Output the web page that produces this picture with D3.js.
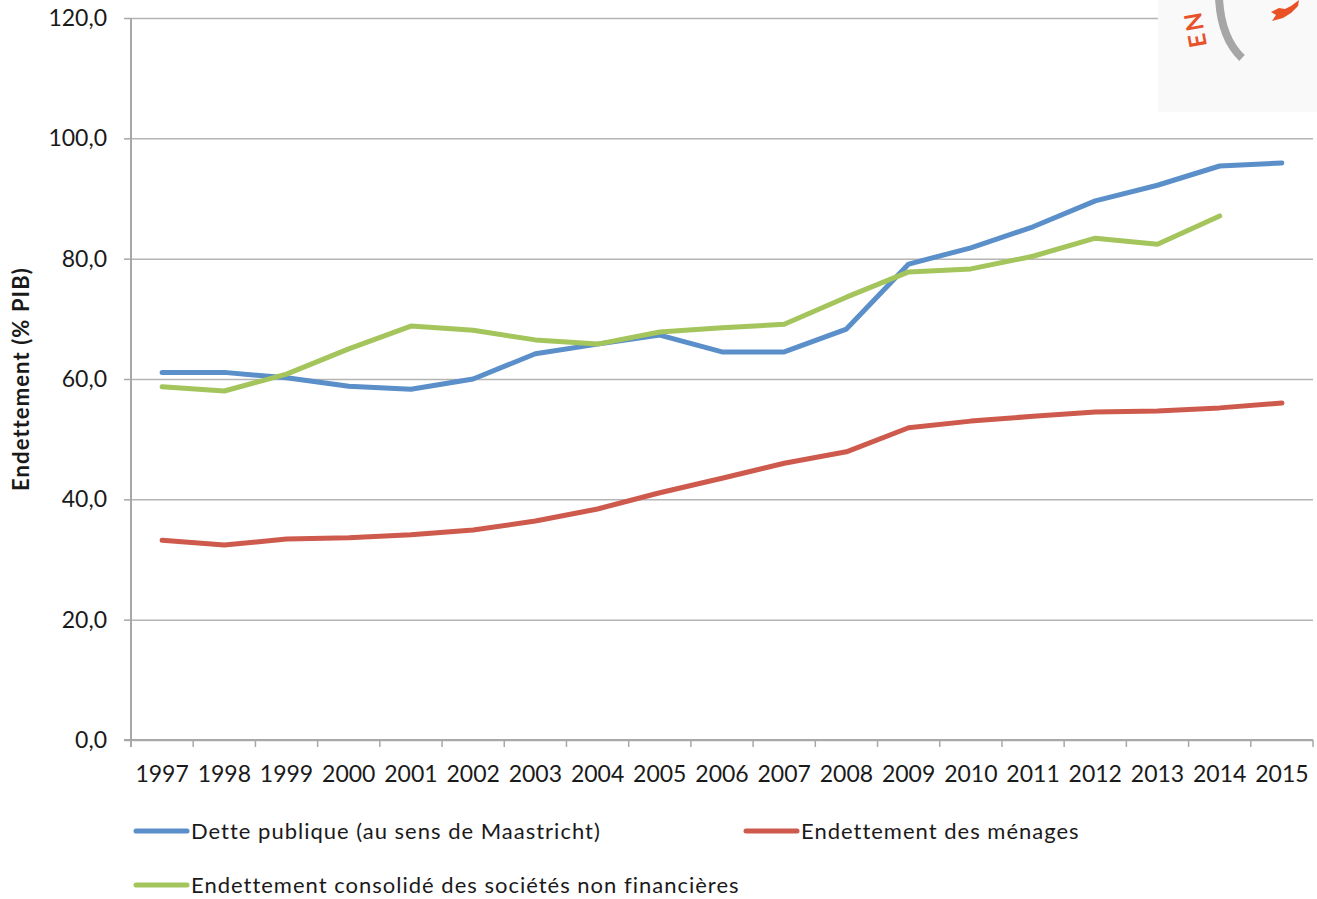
<!DOCTYPE html>
<html>
<head>
<meta charset="utf-8">
<script src="https://cdn.jsdelivr.net/npm/d3@7"></script>
<style>
  html, body { margin: 0; padding: 0; background: #fff; }
  svg { display: block; }
  text { font-family: Lato, "Open Sans", sans-serif; fill: #1a1a1a; }
</style>
</head>
<body>
<svg id="chart" width="1317" height="899"></svg>
<script>
// Endettement en % du PIB, 1997-2015
const years = ["1997","1998","1999","2000","2001","2002","2003","2004","2005","2006",
               "2007","2008","2009","2010","2011","2012","2013","2014","2015"];
const dettePublique = [61.1, 61.1, 60.2, 58.8, 58.3, 60.0, 64.2, 65.8, 67.3, 64.5,
                       64.5, 68.3, 79.1, 81.8, 85.3, 89.6, 92.2, 95.4, 95.9];
const menages       = [33.2, 32.4, 33.4, 33.6, 34.1, 34.9, 36.4, 38.4, 41.1, 43.5,
                       46.0, 47.9, 51.9, 53.0, 53.8, 54.5, 54.7, 55.2, 56.0];
const societes      = [58.7, 58.0, 60.8, 65.0, 68.8, 68.1, 66.5, 65.8, 67.8, 68.5,
                       69.1, 73.6, 77.8, 78.3, 80.4, 83.4, 82.4, 87.1, null];
const yTicks = [0, 20, 40, 60, 80, 100, 120];
const seriesNames = ["Dette publique (au sens de Maastricht)",
                     "Endettement des ménages",
                     "Endettement consolidé des sociétés non financières"];
const seriesColors = ["#5a8fc9", "#cd5a4c", "#a4c45c"];
const yTitle = "Endettement (% PIB)";

const svg = d3.select("#chart");
const plotLeft = 131, plotRight = 1313, plotTop = 18, plotBottom = 740;

const x = d3.scaleBand().domain(years).range([plotLeft, plotRight]).padding(0);
const y = d3.scaleLinear().domain([0, 120]).range([plotBottom, plotTop]);
const fmt = d => d3.format(".1f")(d).replace(".", ",");

// horizontal gridlines
const grid = svg.append("g")
  .attr("transform", `translate(${plotLeft},0)`)
  .call(d3.axisLeft(y).tickValues(yTicks).tickSize(-(plotRight - plotLeft)).tickFormat(""));
grid.select(".domain").remove();
grid.selectAll("line").attr("stroke", "#b4b4b4").attr("stroke-width", 1.5);

// logo panel in the top-right corner
const logo = svg.append("g");
logo.append("rect").attr("x", 1158).attr("y", 0).attr("width", 159).attr("height", 112)
  .attr("fill", "#f9f9f9");
logo.append("path").attr("d", "M1219,-2 Q1221,38 1242,58")
  .attr("fill", "none").attr("stroke", "#a6a6a6").attr("stroke-width", 8);
logo.append("text").attr("transform", "translate(1207,46) rotate(-100)")
  .attr("font-size", 24).attr("font-weight", 700).style("fill", "#e8522b")
  .attr("letter-spacing", 3).text("EN");
logo.append("path")
  .attr("d", "M1299,0 L1291,6 L1285,9 L1279,8 L1271,12 L1276,15 L1272,21 L1283,18 L1291,13 L1298,6 Z")
  .attr("fill", "#ea5226");

// y axis
const yAxis = svg.append("g")
  .attr("transform", `translate(${plotLeft},0)`)
  .call(d3.axisLeft(y).tickValues(yTicks).tickSize(7).tickPadding(17).tickFormat(fmt));
yAxis.select(".domain").attr("stroke", "#a8a8a8").attr("stroke-width", 2)
  .attr("d", `M0,${plotTop}V${plotBottom + 7}`);
yAxis.selectAll(".tick line").attr("stroke", "#a8a8a8").attr("stroke-width", 1.5);
yAxis.selectAll(".tick text").attr("font-size", 23).style("fill", "#1a1a1a")
  .attr("font-family", "Lato, sans-serif");

// x axis: labels centred in each band, tick marks on band boundaries
const xAxis = svg.append("g")
  .attr("transform", `translate(0,${plotBottom})`)
  .call(d3.axisBottom(x).tickSize(0).tickPadding(26));
xAxis.select(".domain").attr("stroke", "#a8a8a8").attr("stroke-width", 2)
  .attr("d", `M${plotLeft - 7},0H${plotRight}`);
xAxis.selectAll(".tick text").attr("font-size", 23).style("fill", "#1a1a1a")
  .attr("font-family", "Lato, sans-serif");
const bounds = years.map(d => x(d)).concat([x.range()[1]]);
svg.append("g").selectAll("line").data(bounds).join("line")
  .attr("x1", d => d).attr("x2", d => d)
  .attr("y1", plotBottom).attr("y2", plotBottom + 7)
  .attr("stroke", "#a8a8a8").attr("stroke-width", 1.5);

// y axis title
svg.append("text")
  .attr("transform", `translate(29,${(268 + 490) / 2}) rotate(-90)`)
  .attr("text-anchor", "middle").attr("font-size", 22).attr("font-weight", 700)
  .attr("letter-spacing", 1.1)
  .text(yTitle);

// series lines
const allSeries = [dettePublique, menages, societes];
const line = d3.line()
  .defined(d => d != null)
  .x((d, i) => x(years[i]) + x.bandwidth() / 2)
  .y(d => y(d));
svg.append("g").selectAll("path").data(allSeries).join("path")
  .attr("d", line)
  .attr("fill", "none")
  .attr("stroke", (d, i) => seriesColors[i])
  .attr("stroke-width", 5)
  .attr("stroke-linejoin", "round")
  .attr("stroke-linecap", "round");

// legend
const legendPos = [[136, 831], [746, 831], [136, 885]];
const lg = svg.append("g").selectAll("g").data(seriesNames).join("g")
  .attr("transform", (d, i) => `translate(${legendPos[i][0]},${legendPos[i][1]})`);
lg.append("line").attr("x1", 0).attr("x2", 51).attr("y1", 0).attr("y2", 0)
  .attr("stroke", (d, i) => seriesColors[i]).attr("stroke-width", 5)
  .attr("stroke-linecap", "round");
lg.append("text").attr("x", 55).attr("y", 8).attr("font-size", 22)
  .attr("letter-spacing", 1).text(d => d);
</script>
</body>
</html>
